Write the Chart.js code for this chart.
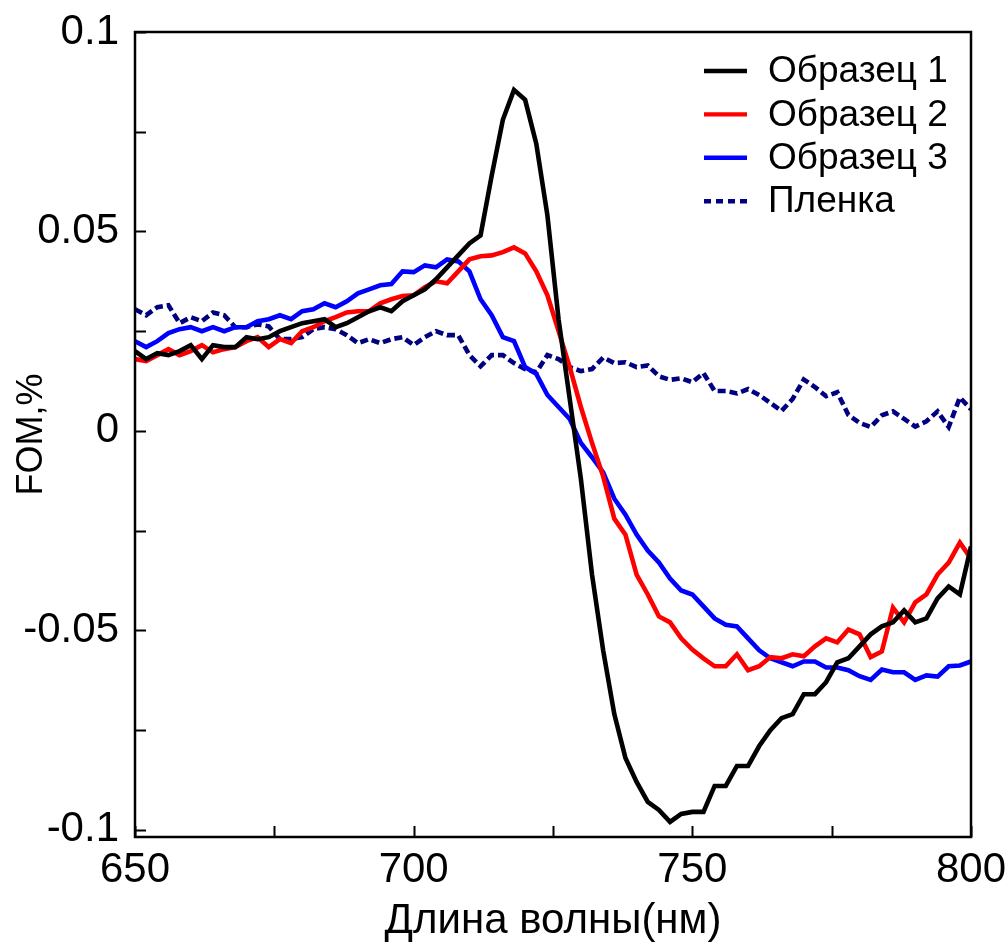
<!DOCTYPE html>
<html lang="ru">
<head>
<meta charset="utf-8">
<title>FOM</title>
<script src="https://cdn.jsdelivr.net/npm/chart.js@4.4.1/dist/chart.umd.min.js"></script>
<style>
  html, body { margin: 0; padding: 0; background: #ffffff; }
  #wrap { width: 1008px; height: 942px; }
</style>
</head>
<body>
<div id="wrap"><canvas id="fom" width="1008" height="942"></canvas></div>
<script>
// Wavelength grid, nm
const wavelength = [
  650, 652, 654, 656, 658, 660, 662, 664, 666, 668,
  670, 672, 674, 676, 678, 680, 682, 684, 686, 688,
  690, 692, 694, 696, 698, 700, 702, 704, 706, 708,
  710, 712, 714, 716, 718, 720, 722, 724, 726, 728,
  730, 732, 734, 736, 738, 740, 742, 744, 746, 748,
  750, 752, 754, 756, 758, 760, 762, 764, 766, 768,
  770, 772, 774, 776, 778, 780, 782, 784, 786, 788,
  790, 792, 794, 796, 798, 800
];

// FOM, % for each sample
const sample1 = [
  0.020, 0.018, 0.0195, 0.019, 0.020, 0.0215, 0.018, 0.0215, 0.021, 0.021,
  0.0235, 0.023, 0.0235, 0.025, 0.026, 0.027, 0.0275, 0.028, 0.026, 0.027,
  0.0285, 0.030, 0.031, 0.030, 0.0325, 0.034, 0.0355, 0.038, 0.041, 0.044,
  0.047, 0.049, 0.064, 0.078, 0.0855, 0.083, 0.072, 0.054, 0.028, 0.008,
  -0.012, -0.036, -0.055, -0.071, -0.082, -0.088, -0.093, -0.095, -0.098, -0.096,
  -0.0955, -0.0955, -0.089, -0.089, -0.084, -0.084, -0.079, -0.075, -0.072, -0.071,
  -0.066, -0.066, -0.063, -0.058, -0.057, -0.054, -0.051, -0.049, -0.048, -0.045,
  -0.048, -0.047, -0.042, -0.039, -0.041, -0.029
];

const sample2 = [
  0.018, 0.0175, 0.019, 0.0205, 0.019, 0.020, 0.0215, 0.0197, 0.0205, 0.021,
  0.0225, 0.0235, 0.021, 0.023, 0.022, 0.025, 0.026, 0.0275, 0.0285, 0.0297,
  0.030, 0.030, 0.032, 0.033, 0.0338, 0.034, 0.036, 0.0375, 0.037, 0.040,
  0.043, 0.0438, 0.044, 0.0448, 0.046, 0.0445, 0.040, 0.034, 0.025, 0.016,
  0.006, -0.003, -0.0114, -0.022, -0.026, -0.036, -0.041, -0.0465, -0.048, -0.052,
  -0.0548, -0.057, -0.059, -0.059, -0.056, -0.060, -0.059, -0.0567, -0.057, -0.056,
  -0.0565, -0.054, -0.052, -0.053, -0.0498, -0.051, -0.0567, -0.0553, -0.0443, -0.048,
  -0.043, -0.041, -0.036, -0.033, -0.028, -0.032
];

const sample3 = [
  0.0225, 0.021, 0.0225, 0.0245, 0.0255, 0.026, 0.025, 0.026, 0.025, 0.026,
  0.026, 0.0275, 0.028, 0.029, 0.028, 0.030, 0.0305, 0.032, 0.031, 0.0325,
  0.0345, 0.0355, 0.0365, 0.0368, 0.040, 0.0398, 0.0415, 0.041, 0.043, 0.0425,
  0.040, 0.033, 0.029, 0.0235, 0.0225, 0.016, 0.0143, 0.009, 0.006, 0.003,
  -0.003, -0.0066, -0.0104, -0.017, -0.021, -0.026, -0.030, -0.033, -0.037, -0.040,
  -0.041, -0.044, -0.047, -0.0486, -0.049, -0.052, -0.055, -0.057, -0.058, -0.059,
  -0.0578, -0.0578, -0.0593, -0.0593, -0.060, -0.0615, -0.0624, -0.0598, -0.0605, -0.0605,
  -0.0624, -0.0613, -0.0616, -0.059, -0.0588, -0.0578
];

const film = [
  0.0305, 0.029, 0.031, 0.0315, 0.027, 0.0285, 0.0275, 0.0297, 0.029, 0.026,
  0.026, 0.0267, 0.0262, 0.023, 0.023, 0.0235, 0.0255, 0.026, 0.0255, 0.024,
  0.022, 0.023, 0.022, 0.023, 0.0235, 0.0215, 0.0235, 0.025, 0.024, 0.024,
  0.019, 0.0162, 0.019, 0.019, 0.017, 0.0155, 0.0147, 0.019, 0.018, 0.016,
  0.015, 0.0155, 0.0184, 0.017, 0.0172, 0.016, 0.0164, 0.0137, 0.0128, 0.0132,
  0.0122, 0.0145, 0.010, 0.010, 0.0094, 0.0105, 0.009, 0.007, 0.005, 0.008,
  0.0129, 0.011, 0.0087, 0.0097, 0.004, 0.002, 0.001, 0.0039, 0.0049, 0.003,
  0.0011, 0.0024, 0.0049, 0.001, 0.0084, 0.0054
];

const seriesNames = ['Образец 1', 'Образец 2', 'Образец 3', 'Пленка'];

// Axis ticks
const xMajorTicks = [650, 700, 750, 800];
const xMinorTicks = [675, 725, 775];
const yMajorTicks = [-0.1, -0.05, 0, 0.05, 0.1];
const yMajorLabels = ['-0.1', '-0.05', '0', '0.05', '0.1'];
const yMinorTicks = [-0.075, -0.025, 0.025, 0.075];

const FONT = "'Liberation Sans', Arial, Helvetica, sans-serif";

function points(values) {
  return wavelength.map((w, i) => ({ x: w, y: values[i] }));
}

function lineSet(label, values, color, dash) {
  return {
    label: label,
    data: points(values),
    borderColor: color,
    backgroundColor: color,
    borderWidth: 4.6,
    borderDash: dash || [],
    pointRadius: 0,
    tension: 0,
    fill: false
  };
}

// the plot box is fixed by the layout padding alone
function noEdgePadding(scale) {
  scale.paddingTop = 0;
  scale.paddingBottom = 0;
  scale.paddingLeft = 0;
  scale.paddingRight = 0;
}

// Frame, inward tick marks and the legend box
const framePlugin = {
  id: 'frameAndLegend',
  afterDraw(chart) {
    const ctx = chart.ctx;
    const a = chart.chartArea;
    const xs = chart.scales.x;
    const ys = chart.scales.y;
    ctx.save();
    ctx.strokeStyle = '#000';
    ctx.lineWidth = 2.5;
    ctx.setLineDash([]);
    ctx.strokeRect(a.left, a.top, a.right - a.left, a.bottom - a.top);

    ctx.lineWidth = 2;
    const tickLen = 11;
    ctx.beginPath();
    xMajorTicks.concat(xMinorTicks).forEach(v => {
      const px = Math.round(xs.getPixelForValue(v)) + 0.5;
      ctx.moveTo(px, a.bottom);
      ctx.lineTo(px, a.bottom - tickLen);
    });
    yMajorTicks.concat(yMinorTicks).forEach(v => {
      const py = Math.round(ys.getPixelForValue(v)) + 0.5;
      ctx.moveTo(a.left, py);
      ctx.lineTo(a.left + tickLen, py);
    });
    ctx.stroke();

    // legend
    const lineX0 = a.right - 267;
    const lineX1 = a.right - 224;
    const textX = a.right - 203;
    const rowY0 = a.top + 39;
    const rowStep = 43.4;
    ctx.font = '37px ' + FONT;
    ctx.textBaseline = 'middle';
    ctx.textAlign = 'left';
    chart.data.datasets.forEach((ds, i) => {
      const y = rowY0 + i * rowStep;
      ctx.strokeStyle = ds.borderColor;
      ctx.lineWidth = 4.4;
      ctx.setLineDash(ds.borderDash && ds.borderDash.length ? [7, 5] : []);
      ctx.beginPath();
      ctx.moveTo(lineX0, y);
      ctx.lineTo(lineX1, y);
      ctx.stroke();
      ctx.setLineDash([]);
      ctx.fillStyle = '#000';
      ctx.fillText(ds.label, textX, y + 1);
    });
    ctx.restore();
  }
};

new Chart(document.getElementById('fom'), {
  type: 'line',
  data: {
    datasets: [
      lineSet(seriesNames[0], sample1, '#000000'),
      lineSet(seriesNames[1], sample2, '#ff0000'),
      lineSet(seriesNames[2], sample3, '#0000ff'),
      lineSet(seriesNames[3], film, '#000080', [8, 4])
    ]
  },
  options: {
    responsive: false,
    animation: false,
    devicePixelRatio: 1,
    layout: { padding: { top: 32, right: 37, left: 0, bottom: 0 } },
    plugins: {
      legend: { display: false },
      tooltip: { enabled: false }
    },
    scales: {
      x: {
        type: 'linear',
        min: 650,
        max: 800,
        grid: { display: false, drawTicks: false },
        border: { display: false },
        afterBuildTicks(scale) {
          scale.ticks = xMajorTicks.map(v => ({ value: v }));
        },
        afterFit(scale) { scale.height = 105; noEdgePadding(scale); },
        ticks: {
          color: '#000',
          padding: 8,
          maxRotation: 0,
          autoSkip: false,
          font: { family: FONT, size: 42 },
          callback: v => String(v)
        },
        title: {
          display: true,
          text: 'Длина волны(нм)',
          color: '#000',
          font: { family: FONT, size: 42, lineHeight: 1 },
          padding: { top: 0, bottom: 0 }
        }
      },
      y: {
        type: 'linear',
        min: -0.1018,
        max: 0.1,
        grid: { display: false, drawTicks: false },
        border: { display: false },
        afterBuildTicks(scale) {
          scale.ticks = yMajorTicks.map(v => ({ value: v }));
        },
        afterFit(scale) { scale.width = 135; noEdgePadding(scale); },
        ticks: {
          color: '#000',
          padding: 16,
          autoSkip: false,
          font: { family: FONT, size: 42 },
          callback: (v) => {
            const k = yMajorTicks.findIndex(t => Math.abs(t - v) < 1e-9);
            return k >= 0 ? yMajorLabels[k] : '';
          }
        },
        title: {
          display: true,
          text: 'FOM,%',
          color: '#000',
          font: { family: FONT, size: 36, lineHeight: 1 },
          padding: { top: 14, bottom: 0 }
        }
      }
    }
  },
  plugins: [framePlugin]
});
</script>
</body>
</html>
